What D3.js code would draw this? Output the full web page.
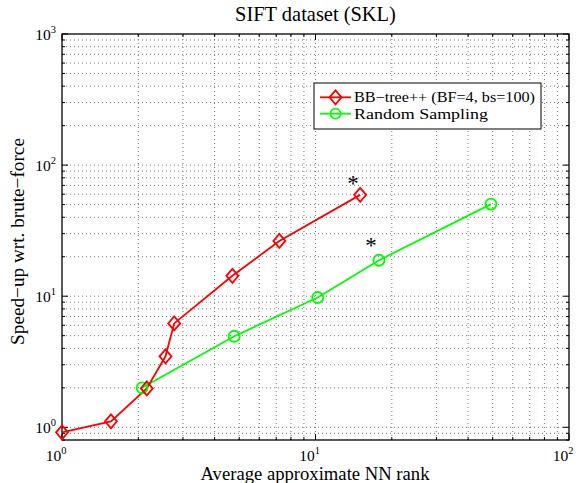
<!DOCTYPE html>
<html><head><meta charset="utf-8">
<script src="https://cdn.jsdelivr.net/npm/d3@7"></script>
<style>body{margin:0;background:#fff}svg{display:block}text{font-family:"Liberation Serif","DejaVu Serif",serif;fill:#000}</style>
</head><body>
<script>
const title = "SIFT dataset (SKL)";
const xLabel = "Average approximate NN rank";
const yLabel = "Speed\u2212up wrt. brute\u2212force";
const seriesNames = ["BB\u2212tree++ (BF=4, bs=100)", "Random Sampling"];
const bbX = [1.0, 1.56, 2.16, 2.56, 2.77, 4.70, 7.2, 15.0];
const bbY = [0.915, 1.11, 1.98, 3.48, 6.2, 14.3, 26.4, 59.3];
const rsX = [2.07, 4.78, 10.2, 17.8, 49.2];
const rsY = [2.0, 4.95, 9.77, 18.8, 50.4];
const starX = [14.06, 16.56];
const starY = [76.8, 25.8];
const xDecades = [1, 10, 100];
const yDecades = [1, 10, 100, 1000];

const W = 581, H = 483;
const m = {l: 62, r: 12, t: 34, b: 43};
const svg = d3.select("body").append("svg").attr("width", W).attr("height", H);
const x = d3.scaleLog().domain([1, 100]).range([m.l, W - m.r]);
const y = d3.scaleLog().domain([0.8, 1000]).range([H - m.b, m.t]);
const x0 = m.l, x1 = W - m.r, y0 = H - m.b, y1 = m.t;

function fit(t, target) {
  const fs = +t.attr("font-size");
  const len = t.node().getComputedTextLength();
  if (len > 0) t.attr("font-size", (fs * target / len).toFixed(2));
  return t;
}

const xMinor = [], yMinor = [];
for (let d = 1; d < 100; d *= 10) for (let k = 2; k <= 9; k++) xMinor.push(d * k);
for (let d = 0.1; d < 1000; d *= 10) for (let k = 2; k <= 9; k++) { const v = d * k; if (v >= 0.8 && v < 1000) yMinor.push(v); }

const grid = svg.append("g").attr("stroke", "#555").attr("stroke-width", 0.8).attr("stroke-dasharray", "1,3");
[...xMinor, ...xDecades].forEach(v => {
  if (v <= 1 || v >= 100) return;
  grid.append("line").attr("x1", x(v)).attr("x2", x(v)).attr("y1", y0).attr("y2", y1);
});
[...yMinor, ...yDecades].forEach(v => {
  if (v <= 0.8 || v >= 1000) return;
  grid.append("line").attr("y1", y(v)).attr("y2", y(v)).attr("x1", x0).attr("x2", x1);
});

const ax = svg.append("g").attr("stroke", "#000").attr("stroke-width", 1);
function tickX(v, len) {
  ax.append("line").attr("x1", x(v)).attr("x2", x(v)).attr("y1", y0).attr("y2", y0 - len);
  ax.append("line").attr("x1", x(v)).attr("x2", x(v)).attr("y1", y1).attr("y2", y1 + len);
}
function tickY(v, len) {
  ax.append("line").attr("y1", y(v)).attr("y2", y(v)).attr("x1", x0).attr("x2", x0 + len);
  ax.append("line").attr("y1", y(v)).attr("y2", y(v)).attr("x1", x1).attr("x2", x1 - len);
}
xMinor.forEach(v => tickX(v, 3));
xDecades.forEach(v => tickX(v, 6));
yMinor.forEach(v => tickY(v, 3));
yDecades.forEach(v => tickY(v, 6));
svg.append("rect").attr("x", x0).attr("y", y1).attr("width", x1 - x0).attr("height", y0 - y1)
  .attr("fill", "none").attr("stroke", "#000").attr("stroke-width", 1.3);

function pow10(g, v) {
  const e = Math.round(Math.log10(v));
  const t = g.append("text").attr("font-size", 15.5);
  t.append("tspan").text("10");
  t.append("tspan").attr("font-size", 10.5).attr("dy", -7).text(e);
  return t;
}
xDecades.forEach(v => {
  pow10(svg, v).attr("x", x(v) - 6).attr("y", y0 + 21).attr("text-anchor", "middle");
});
yDecades.forEach(v => {
  pow10(svg, v).attr("x", x0 - 6).attr("y", y(v) + 6).attr("text-anchor", "end");
});

fit(svg.append("text").attr("x", (x0 + x1) / 2).attr("y", 21).attr("text-anchor", "middle").attr("font-size", 20).text(title), 161);
fit(svg.append("text").attr("x", 315).attr("y", 480).attr("text-anchor", "middle").attr("font-size", 18.5).text(xLabel), 229);
fit(svg.append("text").attr("transform", `translate(24,241.5) rotate(-90)`).attr("text-anchor", "middle").attr("font-size", 18.5).text(yLabel), 207);

const line = d3.line().x(d => x(d[0])).y(d => y(d[1]));
const bb = bbX.map((v, i) => [v, bbY[i]]);
const rs = rsX.map((v, i) => [v, rsY[i]]);
const red = "#ff0000", green = "#00ff00";
const diamond = (cx, cy) => `M${cx},${cy - 7}L${cx + 6},${cy}L${cx},${cy + 7}L${cx - 6},${cy}Z`;

svg.append("path").datum(rs).attr("d", line).attr("fill", "none").attr("stroke", green).attr("stroke-width", 1.8);
svg.append("path").datum(bb).attr("d", line).attr("fill", "none").attr("stroke", red).attr("stroke-width", 1.8);
svg.selectAll(".rsm").data(rs).join("circle").attr("cx", d => x(d[0])).attr("cy", d => y(d[1])).attr("r", 5.5)
  .attr("fill", "none").attr("stroke", green).attr("stroke-width", 1.8);
svg.selectAll(".bbm").data(bb).join("path").attr("d", d => diamond(x(d[0]), y(d[1])))
  .attr("fill", "none").attr("stroke", red).attr("stroke-width", 1.8);

starX.forEach((v, i) => {
  svg.append("text").attr("x", x(v)).attr("y", y(starY[i]) + 11).attr("text-anchor", "middle").attr("font-size", 23).text("*");
});

const lg = svg.append("g");
lg.append("rect").attr("x", 314).attr("y", 83).attr("width", 227).attr("height", 46).attr("fill", "#fff").attr("stroke", "#000").attr("stroke-width", 1);
const rows = [{c: red, n: seriesNames[0], k: "d"}, {c: green, n: seriesNames[1], k: "c"}];
const lgWidths = [181, 134];
rows.forEach((r, i) => {
  const cy = 97.3 + i * 16.4;
  lg.append("line").attr("x1", 320).attr("x2", 351).attr("y1", cy).attr("y2", cy).attr("stroke", r.c).attr("stroke-width", 1.8);
  if (r.k === "d") lg.append("path").attr("d", diamond(335.5, cy)).attr("fill", "none").attr("stroke", r.c).attr("stroke-width", 1.8);
  else lg.append("circle").attr("cx", 335.5).attr("cy", cy).attr("r", 5).attr("fill", "none").attr("stroke", r.c).attr("stroke-width", 1.8);
  lg.append("text").attr("x", 354).attr("y", cy + 5).attr("font-size", 14.6)
    .attr("textLength", lgWidths[i]).attr("lengthAdjust", "spacingAndGlyphs").text(r.n);
});
</script>
</body></html>
